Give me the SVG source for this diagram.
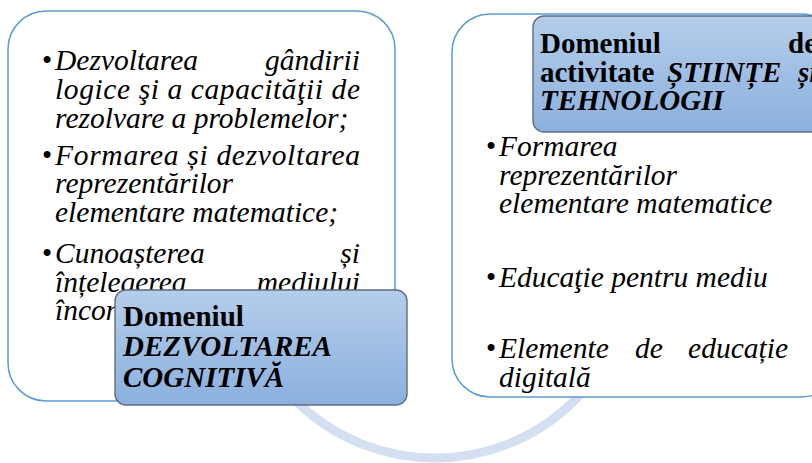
<svg xmlns="http://www.w3.org/2000/svg" width="812" height="463" viewBox="0 0 812 463" font-family="'Liberation Serif', 'Times New Roman', 'DejaVu Serif', serif">
<defs>
<linearGradient id="blueGrad" x1="0" y1="0" x2="0" y2="1">
<stop offset="0" stop-color="#b5cdea"/>
<stop offset="1" stop-color="#8bb0de"/>
</linearGradient>
<style>
.box{fill:#ffffff;stroke:#5b9bd5;stroke-width:1.5}
.lbl{fill:url(#blueGrad);stroke:#5f6e80;stroke-width:1.4}
.t{font-size:29.5px;font-style:italic;fill:#000}
.b{font-size:29px;font-weight:bold;fill:#000}
.bi{font-size:29px;font-weight:bold;font-style:italic;fill:#000}
.bul{font-size:29px;fill:#000}
.arc{fill:none;stroke:#d4dff1;stroke-width:9}
</style>
</defs>
<rect width="812" height="463" fill="#ffffff"/>
<g id="connectors">
<path class="arc" d="M 237 260 A 198 198 0 0 0 633 260"/>
</g>
<g id="node-left-content">
<rect class="box" x="8" y="11" width="387" height="390" rx="38" ry="38"/>
<text class="bul" x="42" y="70">•</text>
<text class="t" x="55" y="70">Dezvoltarea</text>
<text class="t" x="360" y="70" text-anchor="end">gândirii</text>
<text class="t" x="55" y="99" textLength="305" lengthAdjust="spacing">logice şi a capacităţii de</text>
<text class="t" x="55" y="128">rezolvare a problemelor;</text>
<text class="bul" x="42" y="165">•</text>
<text class="t" x="55" y="165" textLength="305" lengthAdjust="spacing">Formarea și dezvoltarea</text>
<text class="t" x="55" y="193">reprezentărilor</text>
<text class="t" x="55" y="222">elementare matematice;</text>
<text class="bul" x="42" y="263">•</text>
<text class="t" x="55" y="263">Cunoașterea</text>
<text class="t" x="360" y="263" text-anchor="end">și</text>
<text class="t" x="55" y="292">înțelegerea</text>
<text class="t" x="360" y="292" text-anchor="end">mediului</text>
<text class="t" x="55" y="320">înconjurător</text>
</g>
<g id="node-right-content">
<rect class="box" x="452" y="14" width="387" height="383" rx="38" ry="38"/>
<text class="bul" x="486" y="156">•</text>
<text class="t" x="499" y="156">Formarea</text>
<text class="t" x="499" y="185">reprezentărilor</text>
<text class="t" x="499" y="213">elementare matematice</text>
<text class="bul" x="486" y="287">•</text>
<text class="t" x="499" y="287">Educaţie pentru mediu</text>
<text class="bul" x="486" y="358">•</text>
<text class="t" x="499" y="358">Elemente</text>
<text class="t" x="635" y="358">de</text>
<text class="t" x="788" y="358" text-anchor="end">educație</text>
<text class="t" x="499" y="387">digitală</text>
</g>
<g id="node-left-label">
<rect class="lbl" x="115" y="290" width="292" height="115" rx="11" ry="11"/>
<text class="b" x="123" y="326">Domeniul</text>
<text class="bi" x="123" y="356">DEZVOLTAREA</text>
<text class="bi" x="123" y="387">COGNITIVĂ</text>
</g>
<g id="node-right-label">
<rect class="lbl" x="533" y="16" width="292" height="116" rx="11" ry="11"/>
<text class="b" x="540" y="53">Domeniul</text>
<text class="b" x="788" y="53">de</text>
<text class="b" x="540" y="82">activitate</text>
<text class="bi" x="667" y="82">ȘTIINȚE</text>
<text class="bi" x="798" y="82">și</text>
<text class="bi" x="540" y="110">TEHNOLOGII</text>
</g>
</svg>
